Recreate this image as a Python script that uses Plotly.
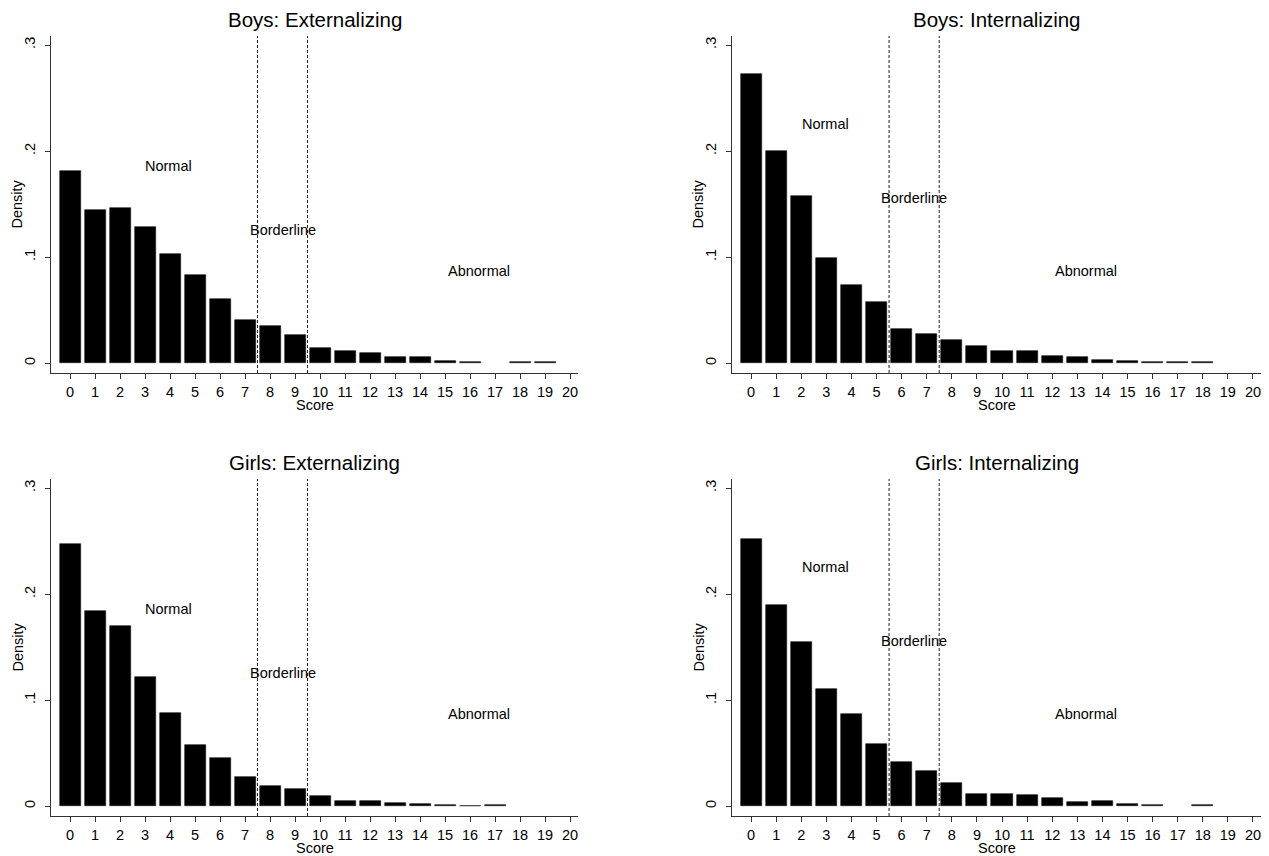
import plotly.graph_objects as go

scores = list(range(0, 21))
tick_labels = [str(s) for s in scores]
y_tick_vals = [0, 0.1, 0.2, 0.3]
y_tick_text = ["0", ".1", ".2", ".3"]

boys_ext = [0.181, 0.144, 0.146, 0.128, 0.103, 0.083, 0.061, 0.041, 0.035, 0.027, 0.014,
            0.012, 0.010, 0.006, 0.006, 0.0025, 0.001, 0, 0.001, 0.001, 0]
boys_int = [0.273, 0.200, 0.158, 0.099, 0.074, 0.0575, 0.032, 0.028, 0.022, 0.0163, 0.012,
            0.012, 0.0069, 0.0057, 0.0035, 0.0025, 0.0015, 0.001, 0.0008, 0, 0]
girls_ext = [0.247, 0.184, 0.1695, 0.122, 0.088, 0.058, 0.0456, 0.0274, 0.0195, 0.0167, 0.0094,
             0.0047, 0.0045, 0.0031, 0.0025, 0.0013, 0.0006, 0.001, 0, 0, 0]
girls_int = [0.252, 0.190, 0.155, 0.1107, 0.0865, 0.059, 0.042, 0.0336, 0.0223, 0.012, 0.012,
             0.0104, 0.0075, 0.0044, 0.005, 0.0019, 0.001, 0, 0.0008, 0, 0]

titles = ["Boys: Externalizing", "Boys: Internalizing", "Girls: Externalizing", "Girls: Internalizing"]
ext_cutoffs = [7.5, 9.5]
int_cutoffs = [5.5, 7.5]
ext_labels = [("Normal", 3.95, 0.186), ("Borderline", 8.5, 0.126), ("Abnormal", 16.35, 0.087)]
int_labels = [("Normal", 2.96, 0.226), ("Borderline", 6.5, 0.156), ("Abnormal", 13.36, 0.087)]

W, H = 1269, 856
FONT = "Liberation Sans, Arial, Helvetica, sans-serif"

# pixel layout of the four panels: (x0, x1, ytop, ybottom)
panels = [(51, 578, 36, 373), (732, 1261, 36, 373), (51, 578, 479, 816), (732, 1261, 479, 816)]
series = [boys_ext, boys_int, girls_ext, girls_int]
cutoffs = [ext_cutoffs, int_cutoffs, ext_cutoffs, int_cutoffs]
labels = [ext_labels, int_labels, ext_labels, int_labels]
dash_colors = ["#222222", "#666666", "#222222", "#666666"]
dash_widths = [1, 1.5, 1, 1.5]

fig = go.Figure()
shapes = []
annotations = []
for i, (vals, (px0, px1, pyt, pyb)) in enumerate(zip(series, panels)):
    n = "" if i == 0 else str(i + 1)
    xa, ya = "x" + n, "y" + n
    yv = [v if v > 0 else None for v in vals]
    fig.add_trace(go.Bar(x=scores, y=yv, xaxis=xa, yaxis=ya, width=0.84,
                         marker=dict(color="black", line=dict(color="#111111", width=0.6)),
                         showlegend=False, hoverinfo="x+y"))
    axis_common = dict(showline=True, linecolor="#333333", linewidth=1.2, ticks="outside",
                       ticklen=5, tickwidth=1.2, tickcolor="#333333", showgrid=False,
                       zeroline=False, tickfont=dict(family=FONT, size=14.5, color="black"))
    fig.layout["xaxis" + n] = dict(domain=[px0 / W, px1 / W], anchor=ya, range=[-0.76, 20.32],
                                   tickvals=scores, ticktext=tick_labels, **axis_common)
    fig.layout["yaxis" + n] = dict(domain=[1 - pyb / H, 1 - pyt / H], anchor=xa,
                                   range=[-0.0092, 0.3085], tickvals=y_tick_vals,
                                   ticktext=y_tick_text, tickangle=-90, ticklabelstandoff=4,
                                   **axis_common)
    for c in cutoffs[i]:
        shapes.append(dict(type="line", xref=xa, yref=ya + " domain", x0=c, x1=c, y0=0, y1=1,
                           line=dict(color=dash_colors[i], width=dash_widths[i], dash="3px,2px")))
    for txt, lx, ly in labels[i]:
        annotations.append(dict(text=txt, x=lx, y=ly, xref=xa, yref=ya, showarrow=False,
                                font=dict(family=FONT, size=14.5, color="black")))
    cx = (px0 + px1) / 2 / W
    # panel title
    annotations.append(dict(text=titles[i], x=cx, y=1 - (pyt - 16.5) / H, xref="paper", yref="paper",
                            showarrow=False, xanchor="center", yanchor="middle",
                            font=dict(family=FONT, size=20.5, color="black")))
    # x axis title
    annotations.append(dict(text="Score", x=cx, y=1 - (pyb + 31.5) / H, xref="paper", yref="paper",
                            showarrow=False, xanchor="center", yanchor="middle",
                            font=dict(family=FONT, size=14.5, color="black")))
    # y axis title
    annotations.append(dict(text="Density", x=(px0 - 34) / W, y=1 - (pyt + pyb) / 2 / H,
                            xref="paper", yref="paper", showarrow=False, textangle=-90,
                            xanchor="center", yanchor="middle",
                            font=dict(family=FONT, size=14.5, color="black")))

fig.update_layout(width=W, height=H, margin=dict(l=0, r=0, t=0, b=0),
                  paper_bgcolor="white", plot_bgcolor="white", bargap=0,
                  shapes=shapes, annotations=annotations,
                  font=dict(family=FONT, size=14.5, color="black"))

fig.write_html("out.html")
